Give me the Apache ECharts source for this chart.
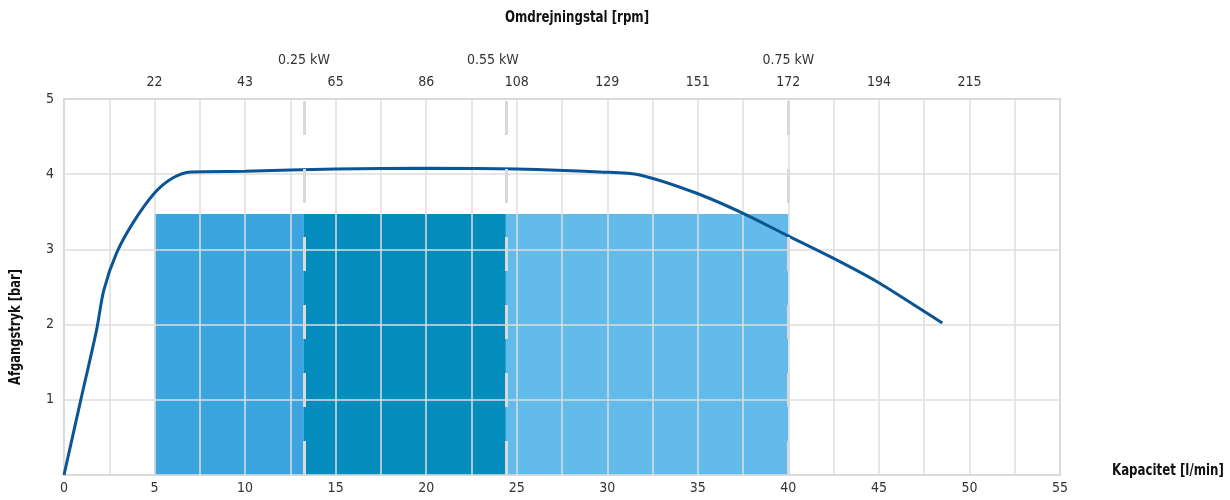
<!DOCTYPE html>
<html>
<head>
<meta charset="utf-8">
<script src="https://cdn.jsdelivr.net/npm/echarts@6/dist/echarts.min.js"></script>
<style>
html,body{margin:0;padding:0;background:#fff;}
#c{width:1230px;height:500px;}
</style>
</head>
<body>
<div id="c"></div>
<script>
// ---- data ----
const curveX = [0, 0.9, 1.8, 2.2, 2.9, 3.8, 5, 6, 7, 10, 15, 20, 25, 29.6, 31.8, 34.9, 37.5, 39.9, 42.5, 44.9, 47.4, 48.5];
const curveY = [0, 0.97, 1.93, 2.46, 2.95, 3.35, 3.75, 3.95, 4.03, 4.04, 4.07, 4.08, 4.07, 4.03, 3.99, 3.75, 3.48, 3.19, 2.88, 2.57, 2.19, 2.02];
const bandStart = [5, 13.25, 24.4];
const bandEnd = [13.25, 24.4, 40];
const bandHeight = [3.47, 3.47, 3.47];
const motorPos = [13.25, 24.4, 40];
const motorLabels = ['0.25 kW', '0.55 kW', '0.75 kW'];
const flowTicks = [5, 10, 15, 20, 25, 30, 35, 40, 45, 50];
const rpmLabels = ['22', '43', '65', '86', '108', '129', '151', '172', '194', '215'];

const bandColors = ['#3ca5df', '#048cbc', '#62bbea'];
const motorLabelPad = [[0, 0, 0, 0], [0, 26, 0, 0], [0, 0, 0, 0]];
const FONT = '"DejaVu Sans Condensed", "Liberation Sans Narrow", "Open Sans", sans-serif';

const chart = echarts.init(document.getElementById('c'));
const rpmMap = {};
flowTicks.forEach((v, i) => { rpmMap[v] = rpmLabels[i]; });

const bandData = bandStart.map((s, i) => [s, bandEnd[i], bandHeight[i]]);
const curveData = curveX.map((x, i) => [x, curveY[i]]);

chart.setOption({
  animation: false,
  grid: { left: 64, right: 170, top: 99, bottom: 25, outerBoundsMode: 'none', containLabel: false,
    show: true, borderColor: '#bdbdbd', borderWidth: 1.5, backgroundColor: 'transparent' },
  textStyle: { fontFamily: FONT },
  xAxis: [
    {
      type: 'value', min: 0, max: 55, interval: 5, position: 'bottom', z: 2,
      axisLine: { show: false },
      axisTick: { show: false },
      axisLabel: { fontFamily: FONT, fontSize: 14, color: '#333', margin: 6 },
      splitLine: { show: true, lineStyle: { color: '#dedede', width: 1.5 } },
      minorTick: { show: false, splitNumber: 2 },
      minorSplitLine: { show: true, lineStyle: { color: '#dedede', width: 1.5 } }
    },
    {
      type: 'value', min: 0, max: 55, interval: 5, position: 'top', z: 2,
      axisLine: { show: false }, axisTick: { show: false },
      axisLabel: { fontFamily: FONT, fontSize: 14, color: '#333', margin: 10,
        formatter: v => rpmMap[v] || '' },
      splitLine: { show: false }
    }
  ],
  yAxis: {
    type: 'value', min: 0, max: 5, interval: 1, z: 2,
    axisLine: { show: false }, axisTick: { show: false },
    axisLabel: { fontFamily: FONT, fontSize: 14, color: '#333', margin: 10, formatter: v => v === 0 ? '' : String(v) },
    splitLine: { show: true, lineStyle: { color: '#dedede', width: 1.5 } }
  },
  graphic: [
    { type: 'text', x: 577, y: 18, scaleX: 0.82, style: { text: 'Omdrejningstal [rpm]', font: 'bold 16px ' + FONT, fill: '#111', align: 'center', verticalAlign: 'middle' } },
    { type: 'text', x: 1112, y: 471, scaleX: 0.82, style: { text: 'Kapacitet [l/min]', font: 'bold 16px ' + FONT, fill: '#111', align: 'left', verticalAlign: 'middle' } },
    { type: 'text', x: 16, y: 327, rotation: Math.PI / 2, scaleX: 0.8, style: { text: 'Afgangstryk [bar]', font: 'bold 16px ' + FONT, fill: '#111', align: 'center', verticalAlign: 'middle' } }
  ],
  series: [
    {
      type: 'custom', z: 1, xAxisIndex: 0,
      data: bandData,
      encode: { x: [0, 1], y: 2 },
      renderItem: function (params, api) {
        const p0 = api.coord([api.value(0), api.value(2)]);
        const p1 = api.coord([api.value(1), 0]);
        return { type: 'rect', shape: { x: p0[0], y: p0[1], width: p1[0] - p0[0], height: p1[1] - p0[1] },
          style: { fill: bandColors[params.dataIndex] } };
      }
    },
    {
      type: 'line', z: 3, data: [], silent: true,
      markLine: {
        symbol: 'none', silent: true,
        lineStyle: { color: '#d9d9d9', width: 3, type: [34, 34] },
        label: { show: true, position: 'end', distance: 32, fontFamily: FONT, fontSize: 14, color: '#333', formatter: p => p.name },
        data: motorPos.map((x, i) => ({ xAxis: x, name: motorLabels[i], label: { padding: motorLabelPad[i] } }))
      }
    },
    {
      type: 'line', z: 4, data: curveData, showSymbol: false, smooth: 0.3,
      lineStyle: { color: '#0b5595', width: 3 }
    }
  ]
});
</script>
</body>
</html>
